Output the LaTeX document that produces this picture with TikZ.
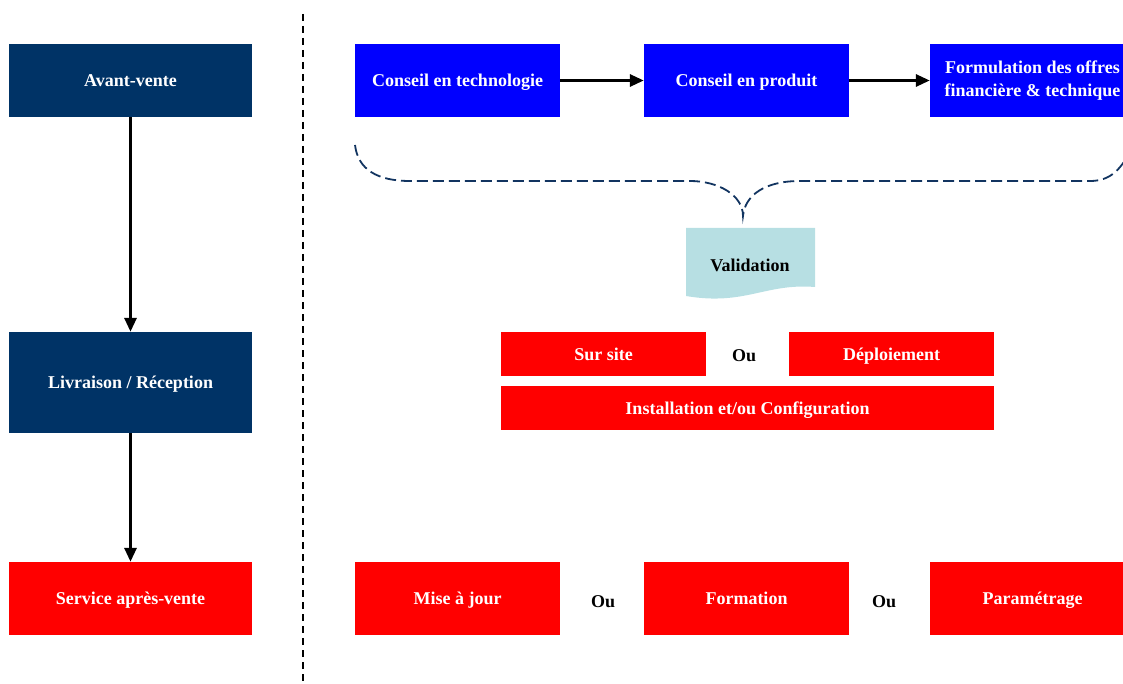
\documentclass[tikz,border=0pt]{standalone}
\usepackage{fontspec}
\setmainfont{Liberation Serif}
\usetikzlibrary{arrows.meta,positioning}
\definecolor{navy}{RGB}{0,51,102}
\definecolor{pureblue}{RGB}{0,0,255}
\definecolor{pured}{RGB}{255,0,0}
\definecolor{teal}{RGB}{183,223,227}
\definecolor{bracecol}{RGB}{18,52,96}
\begin{document}
\begin{tikzpicture}[x=1pt,y=-1pt,
  box/.style={draw=none,inner sep=0pt,align=center,font=\bfseries\fontsize{18}{22.5}\selectfont,text=white},
  oneline/.style={text height=14pt,text depth=1.5pt},
  navybox/.style={box,oneline,fill=navy},
  bluebox/.style={box,fill=pureblue},
  redbox/.style={box,oneline,fill=pured},
  ou/.style={font=\bfseries\fontsize{18}{22}\selectfont,inner sep=0pt,oneline},
  flow/.style={line width=3pt,-{Triangle[length=14pt,width=12pt]}},
  sep/.style={line width=1.6pt,dash pattern=on 7pt off 5pt}]
\useasboundingbox (0,0) rectangle (1123,684);
\clip (0,0) rectangle (1123,684);

% left column: phases
\node[navybox,minimum width=243pt,minimum height=73pt] (av) at (130.5,80.5) {Avant-vente};
\node[navybox,minimum width=243pt,minimum height=101pt] (lr) at (130.5,382.5) {Livraison / Réception};
\node[redbox,minimum width=243pt,minimum height=73pt] (sav) at (130.5,598.5) {Service après-vente};
\draw[flow] (av.south) -- (lr.north);
\draw[flow] (lr.south) -- (sav.north);

% vertical separator
\coordinate (st) at (303,14);
\coordinate (sb) at (303,684);
\draw[sep] (st) -- (sb);

% pre-sale steps
\node[bluebox,oneline,minimum width=205pt,minimum height=73pt] (ct) at (457.5,80.5) {Conseil en technologie};
\node[bluebox,oneline,minimum width=205pt,minimum height=73pt] (cp) at (746.5,80.5) {Conseil en produit};
\node[bluebox,minimum width=205pt,minimum height=73pt] (fo) at (1032.5,80.5) {Formulation des offres\\financière \& technique};
\draw[flow] (ct.east) -- (cp.west);
\draw[flow] (cp.east) -- (fo.west);

% brace gathering the pre-sale steps
\coordinate (bl) at (355,145);
\coordinate (bt) at (743,216);
\coordinate (br) at (1130,152);
\draw[bracecol,line width=1.8pt,dash pattern=on 11pt off 5pt]
  (bl) .. controls (358,170) and (378,181) .. (410,181)
  -- (690,181) .. controls (718,181) and (743,195) .. (bt)
  .. controls (745,195) and (765,181) .. (800,181)
  -- (1090,181) .. controls (1110,181) and (1120,170) .. (br);

% validation document
\path[fill=teal] (686,228) -- (815,228) -- (815,287)
  .. controls (765,283) and (745,306) .. (686,296) -- cycle;
\node[ou] (val) at (750,265) {Validation};

% delivery options
\node[redbox,minimum width=205pt,minimum height=44pt] (ss) at (603.5,354) {Sur site};
\node[ou] (ou1) at (744,355) {Ou};
\node[redbox,minimum width=205pt,minimum height=44pt] (dp) at (891.5,354) {Déploiement};
\node[redbox,minimum width=493pt,minimum height=44pt] (ic) at (747.5,408) {Installation et/ou Configuration};

% after-sale options
\node[redbox,minimum width=205pt,minimum height=73pt] (mj) at (457.5,598.5) {Mise à jour};
\node[ou] (ou2) at (603,601) {Ou};
\node[redbox,minimum width=205pt,minimum height=73pt] (fm) at (746.5,598.5) {Formation};
\node[ou] (ou3) at (884,601) {Ou};
\node[redbox,minimum width=205pt,minimum height=73pt] (pm) at (1032.5,598.5) {Paramétrage};
\end{tikzpicture}
\end{document}
